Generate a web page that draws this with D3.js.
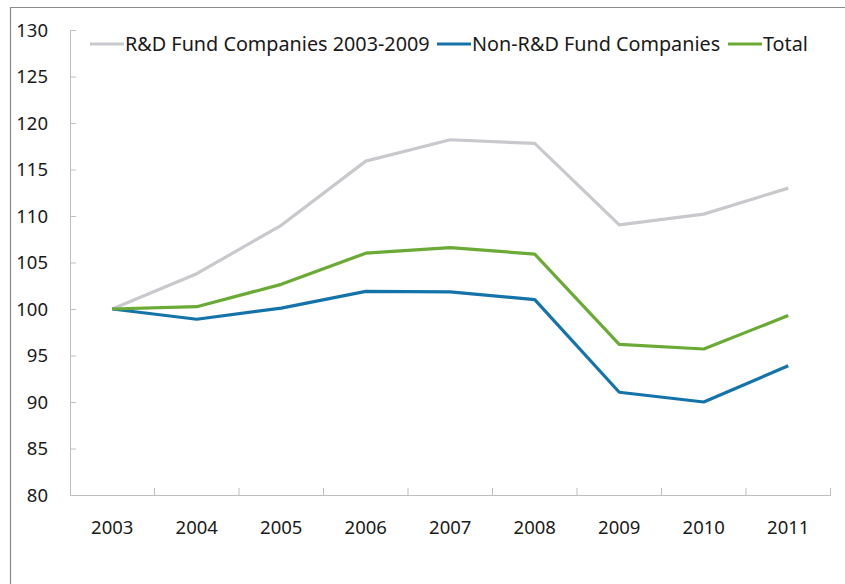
<!DOCTYPE html>
<html>
<head>
<meta charset="utf-8">
<script src="https://cdn.jsdelivr.net/npm/d3@7"></script>
<style>
  html, body { margin: 0; padding: 0; background: #fff; }
  svg { display: block; }
  text { font-family: "Noto Sans", "Open Sans", sans-serif; fill: #1a1a1a; }
</style>
</head>
<body>
<svg id="chart" width="845" height="584"></svg>
<script>
// Index values (2003 = 100)
const years = ["2003", "2004", "2005", "2006", "2007", "2008", "2009", "2010", "2011"];
const rdFund = [100, 103.8, 109.0, 115.9, 118.2, 117.8, 109.05, 110.2, 113.0];
const nonRdFund = [100, 98.9, 100.1, 101.9, 101.85, 101.0, 91.05, 90.0, 93.9];
const total = [100, 100.25, 102.65, 106.0, 106.6, 105.9, 96.2, 95.7, 99.3];
const yTicks = [80, 85, 90, 95, 100, 105, 110, 115, 120, 125, 130];

const seriesNames = ["R&D Fund Companies 2003-2009", "Non-R&D Fund Companies", "Total"];
const seriesColors = ["#c9c9cd", "#1474aa", "#6aaa35"];
const seriesValues = [rdFund, nonRdFund, total];

const svg = d3.select("#chart");
const plot = { left: 70, right: 830.5, top: 30, bottom: 495 };

// outer frame (left and top edges)
svg.append("path")
  .attr("d", "M10.5,584 V7.5 H845")
  .attr("fill", "none")
  .attr("stroke", "#8c8c8c")
  .attr("stroke-width", 1.2);

const x = d3.scaleBand().domain(years).range([plot.left, plot.right]);
const y = d3.scaleLinear().domain([80, 130]).range([plot.bottom, plot.top]);

const axisColor = "#bfbfbf";

// y axis
const yAxis = svg.append("g")
  .attr("transform", `translate(${plot.left},0)`)
  .call(d3.axisRight(y).tickValues(yTicks).tickSize(6).tickFormat(""));
yAxis.select(".domain").attr("stroke", axisColor).attr("d", `M0.5,${plot.top}V${plot.bottom}`);
yAxis.selectAll(".tick line").attr("stroke", axisColor);

svg.append("g").selectAll("text")
  .data(yTicks)
  .join("text")
  .attr("x", 48)
  .attr("y", d => y(d))
  .attr("dy", "0.36em")
  .attr("text-anchor", "end")
  .attr("font-size", 18.5)
  .text(d => d);

// x axis with ticks between categories
const xAxis = svg.append("g")
  .attr("transform", `translate(0,${plot.bottom})`);
xAxis.append("line")
  .attr("x1", plot.left).attr("x2", plot.right)
  .attr("y1", 0.5).attr("y2", 0.5)
  .attr("stroke", axisColor);
xAxis.selectAll("line.tk")
  .data(years)
  .join("line")
  .attr("class", "tk")
  .attr("x1", d => x(d) + x.bandwidth())
  .attr("x2", d => x(d) + x.bandwidth())
  .attr("y1", 0.5).attr("y2", -7)
  .attr("stroke", axisColor);

svg.append("g").selectAll("text")
  .data(years)
  .join("text")
  .attr("x", d => x(d) + x.bandwidth() / 2)
  .attr("y", 527)
  .attr("dy", "0.36em")
  .attr("text-anchor", "middle")
  .attr("font-size", 18.5)
  .text(d => d);

// series lines
const line = d3.line()
  .x((d, i) => x(years[i]) + x.bandwidth() / 2)
  .y(d => y(d));

svg.append("g").selectAll("path")
  .data(seriesValues)
  .join("path")
  .attr("d", d => line(d))
  .attr("fill", "none")
  .attr("stroke", (d, i) => seriesColors[i])
  .attr("stroke-width", 3.2)
  .attr("stroke-linejoin", "round");

// legend
const legendPos = [90, 437, 728];
const legend = svg.append("g").selectAll("g")
  .data(seriesNames)
  .join("g")
  .attr("transform", (d, i) => `translate(${legendPos[i]},44)`);
legend.append("line")
  .attr("x1", 0).attr("x2", 34)
  .attr("stroke", (d, i) => seriesColors[i])
  .attr("stroke-width", 3.2);
legend.append("text")
  .attr("x", 35)
  .attr("dy", "0.36em")
  .attr("font-size", 19.8)
  .text(d => d);
</script>
</body>
</html>
